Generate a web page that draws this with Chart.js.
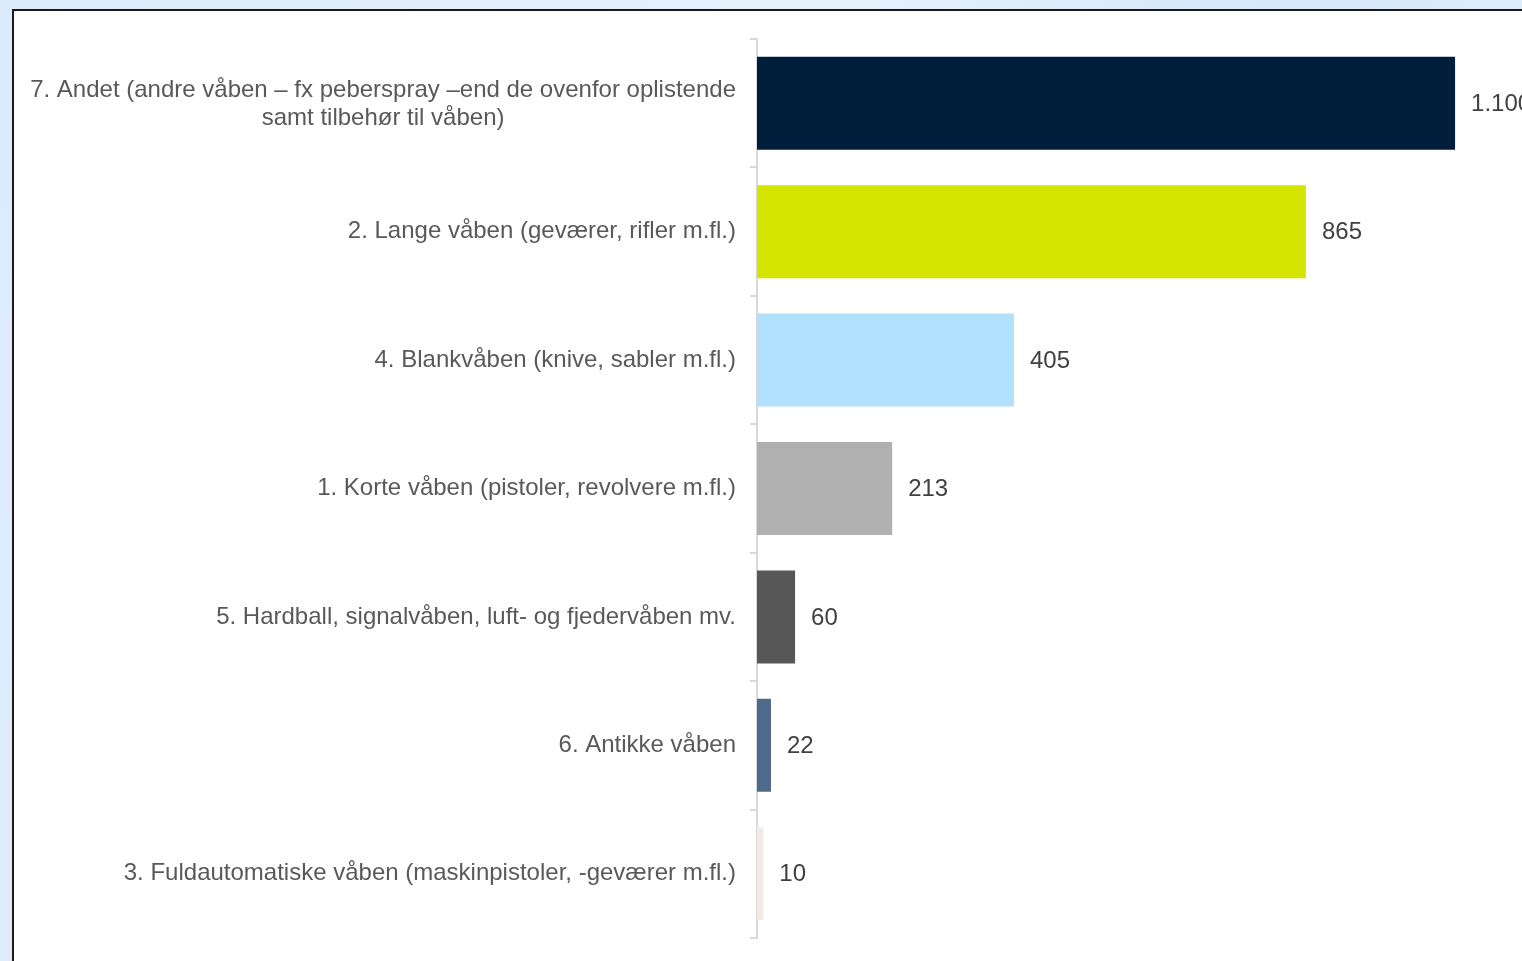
<!DOCTYPE html>
<html>
<head>
<meta charset="utf-8">
<script src="https://cdn.jsdelivr.net/npm/chart.js@4.4.0/dist/chart.umd.min.js"></script>
<style>
  html, body { margin: 0; padding: 0; width: 1522px; height: 961px; overflow: hidden; }
  body { background: linear-gradient(100deg, #dcebfa 0%, #e3effb 30%, #e6f1fc 50%, #d6e8f9 75%, #e4effb 100%); position: relative; }
  #panel { position: absolute; left: 12px; top: 9px; width: 1700px; height: 1100px; background: #ffffff; border: 2px solid #1a1a1a; box-sizing: border-box; }
  #wrap { position: absolute; left: 0; top: 0; width: 1600px; height: 961px; }
  canvas { display: block; }
</style>
</head>
<body>
<div id="panel"></div>
<div id="wrap"><canvas id="c" width="1600" height="961"></canvas></div>
<script>
const categories = [
  ['7. Andet (andre våben – fx peberspray –end de ovenfor oplistende', 'samt tilbehør til våben)'],
  '2. Lange våben (geværer, rifler m.fl.)',
  '4. Blankvåben (knive, sabler m.fl.)',
  '1. Korte våben (pistoler, revolvere m.fl.)',
  '5. Hardball, signalvåben, luft- og fjedervåben mv.',
  '6. Antikke våben',
  '3. Fuldautomatiske våben (maskinpistoler, -geværer m.fl.)'
];
const values = [1100, 865, 405, 213, 60, 22, 10];
const barColors = ['#001e3c', '#d4e600', '#b1e1fd', '#b0b0b0', '#575757', '#4e6b8c', '#f1ebe6'];

const FONT = '"Liberation Sans", Arial, sans-serif';
const FSIZE = 24;
const fmt = v => v.toLocaleString('da-DK');

const valueLabels = {
  id: 'valueLabels',
  afterDatasetsDraw(chart) {
    const ctx = chart.ctx;
    const meta = chart.getDatasetMeta(0);
    ctx.save();
    ctx.font = FSIZE + 'px ' + FONT;
    ctx.fillStyle = '#404040';
    ctx.textAlign = 'left';
    ctx.textBaseline = 'middle';
    meta.data.forEach((bar, i) => {
      ctx.fillText(fmt(values[i]), bar.x + 16, bar.y + 1);
    });
    ctx.restore();
  }
};

// Multi-line first label is centred line by line, as in the original
const centredLabel = {
  id: 'centredLabel',
  afterDraw(chart) {
    const y = chart.scales.y;
    const ctx = chart.ctx;
    ctx.save();
    ctx.font = FSIZE + 'px ' + FONT;
    ctx.fillStyle = '#595959';
    ctx.textBaseline = 'middle';
    categories.forEach((lab, i) => {
      if (!Array.isArray(lab)) return;
      const right = y.right - 7 - 14;
      let widest = 0;
      lab.forEach(l => { widest = Math.max(widest, ctx.measureText(l).width); });
      const cx = right - widest / 2;
      ctx.textAlign = 'center';
      const lh = 28;
      const cy = y.getPixelForTick(i);
      lab.forEach((l, k) => {
        ctx.fillText(l, cx, cy + (k - (lab.length - 1) / 2) * lh + 1);
      });
    });
    ctx.restore();
  }
};

new Chart(document.getElementById('c'), {
  type: 'bar',
  data: {
    labels: categories,
    datasets: [{
      data: values,
      backgroundColor: barColors,
      borderWidth: 0,
      categoryPercentage: 1,
      barPercentage: 0.724
    }]
  },
  options: {
    indexAxis: 'y',
    responsive: false,
    animation: false,
    layout: { padding: { left: 0, top: 39, bottom: 23, right: 18 } },
    plugins: { legend: { display: false }, tooltip: { enabled: false } },
    scales: {
      x: { display: false, min: 0, max: 1300 },
      y: {
        afterFit(scale) { scale.width = 757; scale.paddingTop = 0; scale.paddingBottom = 0; },
        border: { display: true, color: '#d9d9d9', width: 2 },
        grid: { offset: true, drawOnChartArea: false, drawTicks: true, tickLength: 7, color: '#d9d9d9', lineWidth: 2 },
        ticks: {
          padding: 14,
          font: { size: FSIZE, family: FONT },
          color: (c) => Array.isArray(categories[c.index]) ? 'rgba(0,0,0,0)' : '#595959'
        }
      }
    }
  },
  plugins: [valueLabels, centredLabel]
});
</script>
</body>
</html>
